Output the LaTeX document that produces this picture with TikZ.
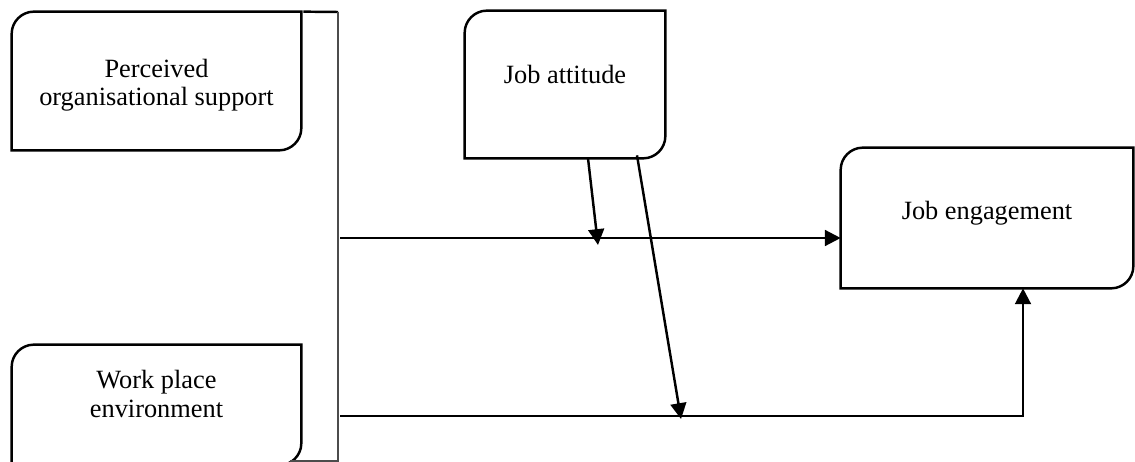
\documentclass[tikz,border=0pt]{standalone}
\usepackage{fontspec}
\setmainfont{Liberation Serif}
\usetikzlibrary{arrows.meta, positioning, calc}

\begin{document}
\begin{tikzpicture}[x=0.02cm, y=-0.02cm]
    \tikzstyle{factor} = [rectangle, draw=none, inner sep=0pt]
    \tikzstyle{caption} = [align=center, inner sep=0pt, font=\fontsize{15}{16}\selectfont]
    \tikzstyle{outline} = [line width=1.4pt, black]
    \tikzstyle{bracket} = [line width=0.7pt, black!70]
    \tikzstyle{arrow} = [line width=1.4pt, -{Triangle[length=9pt,width=9pt]}]

    \useasboundingbox (0,0) rectangle (1135,462);

    \node[factor, minimum width=5.78cm, minimum height=2.76cm] (pos) at (156.5,81) {};
    \node[factor, minimum width=5.78cm, minimum height=2.4cm] (wpe) at (156.5,405) {};
    \node[factor, minimum width=4cm, minimum height=2.94cm] (ja) at (565,84.5) {};
    \node[factor, minimum width=5.84cm, minimum height=2.8cm] (je) at (987,218) {};

    \node[caption] (posl) at ($(pos)+(0,4)$) {Perceived\\organisational support};
    \node[caption] (wpel) at ($(wpe)+(0,-11)$) {Work place\\environment};
    \node[caption] (jal) at ($(ja)+(0,-10)$) {Job attitude};
    \node[caption] (jel) at ($(je)+(0,-5)$) {Job engagement};

    % boxes: round top left and bottom right
    \foreach \n in {pos,wpe,ja,je}
        \draw[outline] (\n.south west) -- ($(\n.north west)+(0,22)$)
            .. controls ($(\n.north west)+(0,10)$) and ($(\n.north west)+(10,0)$) .. ($(\n.north west)+(22,0)$)
            -- (\n.north east) -- ($(\n.south east)+(0,-22)$)
            .. controls ($(\n.south east)+(0,-10)$) and ($(\n.south east)+(-10,0)$) .. ($(\n.south east)+(-22,0)$) -- cycle;

    % bracket joining the two factors
    \coordinate (brtop) at (338,12);
    \coordinate (brbot) at (338,461);
    \draw[outline] ($(pos.north east)+(2,0)$) -- (brtop);
    \draw[bracket] (brtop) -- (brbot) -- (290,461);

    \coordinate (upper) at (340,238);
    \coordinate (lower) at (340,416);
    \coordinate (m1) at (598,245);
    \coordinate (m2) at (681,419);
    \coordinate (turn) at (1023,416);

    \draw[arrow] (upper) -- (upper -| je.west);
    \draw[arrow] ($(ja.south)+(23,0)$) -- (m1);
    \draw[arrow] ($(ja.south)+(72,-3)$) -- (m2);
    \draw[arrow] (lower) -- (turn) -- (turn |- je.south);
\end{tikzpicture}
\end{document}
